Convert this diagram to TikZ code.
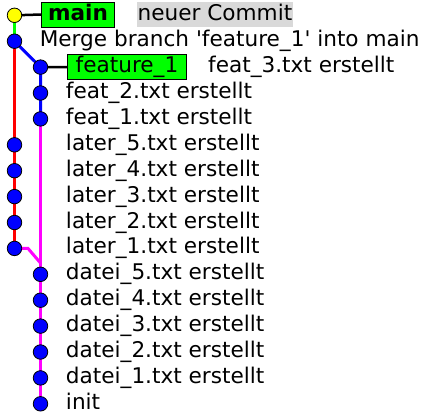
\documentclass[tikz,border=0pt]{standalone}
\usepackage{fontspec}
\setmainfont{DejaVu Sans}[Ligatures=TeXOff]
\usetikzlibrary{backgrounds}
\definecolor{refgray}{RGB}{217,217,217}
\definecolor{lanegreen}{RGB}{0,255,0}
\definecolor{lanered}{RGB}{255,0,0}
\definecolor{laneblue}{RGB}{0,0,255}
\definecolor{lanemagenta}{RGB}{255,0,255}
\definecolor{dotyellow}{RGB}{255,255,0}
\begin{document}
\begin{tikzpicture}[x=1bp,y=-1bp,
  commit/.style={circle,fill=laneblue,draw=black,line width=0.8bp,minimum size=14.5bp,inner sep=0pt},
  head/.style={commit,fill=dotyellow},
  msg/.style={anchor=base west,inner sep=0pt,font=\fontsize{21.6bp}{25bp}\selectfont},
  tagbox/.style={draw=black,line width=1bp,fill=lanegreen,inner sep=0pt,minimum height=25bp,
    text height=15bp,text depth=4bp,font=\fontsize{21.6bp}{25bp}\selectfont},
  notebox/.style={fill=refgray,inner sep=0pt,minimum height=25bp,
    text height=15bp,text depth=4bp,font=\fontsize{21.6bp}{25bp}\selectfont},
  branch/.style={line width=3bp},
  tagline/.style={line width=2.5bp,black}]
\useasboundingbox (0,0) rectangle (426,418);

% commits, one row each
\def\rowy#1{15.3+25.9*#1}
\node[head]   (c0)  at (14.5,{\rowy{0}}) {};
\node[commit] (c1)  at (14.5,{\rowy{1}}) {};
\node[commit] (c2)  at (40.5,{\rowy{2}}) {};
\node[commit] (c3)  at (40.5,{\rowy{3}}) {};
\node[commit] (c4)  at (40.5,{\rowy{4}}) {};
\node[commit] (c5)  at (14.5,{\rowy{5}}) {};
\node[commit] (c6)  at (14.5,{\rowy{6}}) {};
\node[commit] (c7)  at (14.5,{\rowy{7}}) {};
\node[commit] (c8)  at (14.5,{\rowy{8}}) {};
\node[commit] (c9)  at (14.5,{\rowy{9}}) {};
\node[commit] (c10) at (40.5,{\rowy{10}}) {};
\node[commit] (c11) at (40.5,{\rowy{11}}) {};
\node[commit] (c12) at (40.5,{\rowy{12}}) {};
\node[commit] (c13) at (40.5,{\rowy{13}}) {};
\node[commit] (c14) at (40.5,{\rowy{14}}) {};
\node[commit] (c15) at (40.5,{\rowy{15}}) {};

% branch labels and the uncommitted note
\node[tagbox,minimum width=72bp,font=\fontsize{21.6bp}{25bp}\selectfont\bfseries] (tmain) at (78,14.5) {main};
\node[notebox,minimum width=156bp] (note) at (215,14.5) {neuer Commit};
\node[tagbox,minimum width=118.5bp] (tfeat) at (127,67) {feature\_1};

% commit messages
\node[msg] (m1)  at (39.6,{\rowy{1}+5.5}) {Merge branch 'feature\_1' into main};
\node[msg] (m2)  at (208,{\rowy{2}+5.5}) {feat\_3.txt erstellt};
\node[msg] (m3)  at (65.8,{\rowy{3}+5.5}) {feat\_2.txt erstellt};
\node[msg] (m4)  at (65.8,{\rowy{4}+5.5}) {feat\_1.txt erstellt};
\node[msg] (m5)  at (65.8,{\rowy{5}+5.5}) {later\_5.txt erstellt};
\node[msg] (m6)  at (65.8,{\rowy{6}+5.5}) {later\_4.txt erstellt};
\node[msg] (m7)  at (65.8,{\rowy{7}+5.5}) {later\_3.txt erstellt};
\node[msg] (m8)  at (65.8,{\rowy{8}+5.5}) {later\_2.txt erstellt};
\node[msg] (m9)  at (65.8,{\rowy{9}+5.5}) {later\_1.txt erstellt};
\node[msg] (m10) at (65.8,{\rowy{10}+5.5}) {datei\_5.txt erstellt};
\node[msg] (m11) at (65.8,{\rowy{11}+5.5}) {datei\_4.txt erstellt};
\node[msg] (m12) at (65.8,{\rowy{12}+5.5}) {datei\_3.txt erstellt};
\node[msg] (m13) at (65.8,{\rowy{13}+5.5}) {datei\_2.txt erstellt};
\node[msg] (m14) at (65.8,{\rowy{14}+5.5}) {datei\_1.txt erstellt};
\node[msg] (m15) at (65.8,{\rowy{15}+5.5}) {init};

% kink where later_1 joins the datei line
\coordinate (k1) at (28,{\rowy{9}});
\coordinate (k2) at (40.5,263);

\begin{pgfonlayer}{background}
  \draw[branch,lanegreen]   (c0.center) -- (c1.center);
  \draw[branch,lanered]     (c1.center) -- (c9.center);
  \draw[branch,laneblue]    (c1.center) -- (c2.center) -- (c4.center);
  \draw[branch,lanemagenta] (c4.center) -- (c15.center);
  \draw[branch,lanemagenta] (c9.center) -- (k1) -- (k2);
  \draw[tagline] (c0.center) -- (tmain.west);
  \draw[tagline] (c2.center) -- (tfeat.west);
\end{pgfonlayer}
\end{tikzpicture}
\end{document}
